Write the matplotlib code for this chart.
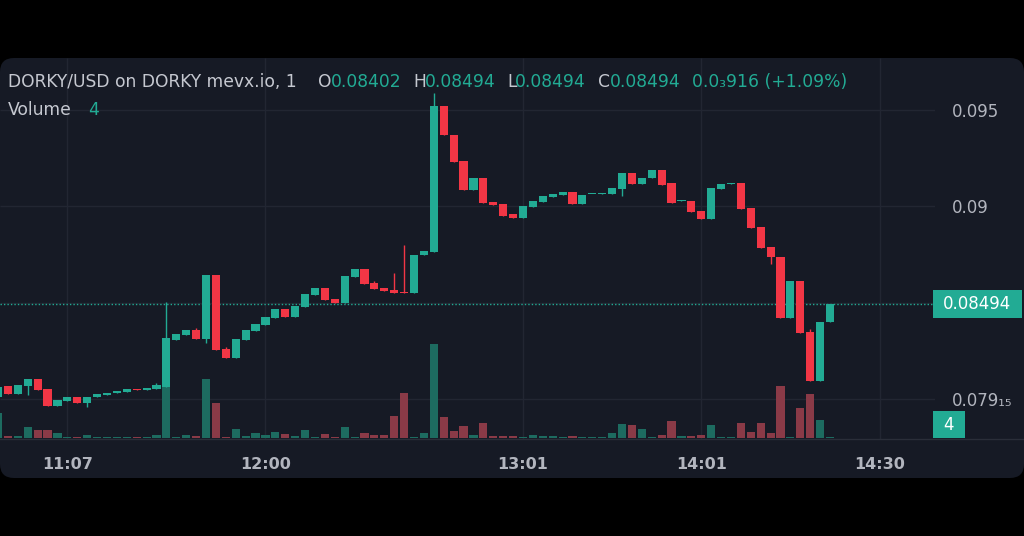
import matplotlib
matplotlib.use("Agg")
import matplotlib.pyplot as plt
import matplotlib.transforms as mtransforms
from matplotlib.patches import FancyBboxPatch, Rectangle
import numpy as np

plt.rcParams['font.family'] = ['DejaVu Sans']

# ---------------- data (1-minute bars) ----------------
opens = [0.08012, 0.08069, 0.08027, 0.08069, 0.08105, 0.08053, 0.07965, 0.07991, 0.08012, 0.07981,
         0.08012, 0.08022, 0.08032, 0.08038, 0.08053, 0.08048, 0.08053, 0.08064, 0.08307, 0.08333,
         0.08359, 0.08312, 0.08644, 0.08261, 0.08214, 0.08307, 0.08354, 0.08385, 0.08421, 0.08468,
         0.08427, 0.08478, 0.08541, 0.08577, 0.08520, 0.08499, 0.08634, 0.08675, 0.08603, 0.08577,
         0.08567, 0.08556, 0.08551, 0.08748, 0.08764, 0.09521, 0.09370, 0.09235, 0.09085, 0.09147,
         0.09023, 0.09012, 0.08961, 0.08940, 0.08997, 0.09023, 0.09049, 0.09059, 0.09075, 0.09012,
         0.09064, 0.09064, 0.09064, 0.09090, 0.09173, 0.09116, 0.09147, 0.09189, 0.09121, 0.09028,
         0.09028, 0.08976, 0.08935, 0.09090, 0.09116, 0.09121, 0.08992, 0.08893, 0.08790, 0.08738,
         0.08421, 0.08613, 0.08349, 0.08095, 0.08402]
closes = [0.08064, 0.08027, 0.08074, 0.08105, 0.08048, 0.07965, 0.07996, 0.08012, 0.07981, 0.08012,
          0.08027, 0.08032, 0.08043, 0.08053, 0.08048, 0.08058, 0.08074, 0.08318, 0.08338, 0.08359,
          0.08312, 0.08644, 0.08255, 0.08214, 0.08312, 0.08359, 0.08390, 0.08427, 0.08468, 0.08427,
          0.08484, 0.08546, 0.08577, 0.08515, 0.08499, 0.08639, 0.08675, 0.08598, 0.08572, 0.08561,
          0.08551, 0.08551, 0.08748, 0.08769, 0.09521, 0.09370, 0.09230, 0.09085, 0.09147, 0.09018,
          0.09007, 0.08950, 0.08940, 0.09002, 0.09028, 0.09054, 0.09064, 0.09075, 0.09012, 0.09059,
          0.09066, 0.09070, 0.09095, 0.09173, 0.09116, 0.09147, 0.09189, 0.09111, 0.09018, 0.09033,
          0.08971, 0.08935, 0.09095, 0.09116, 0.09121, 0.08987, 0.08888, 0.08784, 0.08738, 0.08421,
          0.08613, 0.08344, 0.08095, 0.08402, 0.08494]
highs = [0.08064, 0.08069, 0.08074, 0.08105, 0.08105, 0.08053, 0.07996, 0.08012, 0.08012, 0.08012,
         0.08027, 0.08032, 0.08043, 0.08053, 0.08053, 0.08058, 0.08084, 0.08504, 0.08338, 0.08359,
         0.08369, 0.08644, 0.08644, 0.08271, 0.08312, 0.08359, 0.08390, 0.08427, 0.08468, 0.08468,
         0.08484, 0.08546, 0.08577, 0.08577, 0.08520, 0.08639, 0.08675, 0.08675, 0.08613, 0.08577,
         0.08655, 0.08800, 0.08748, 0.08769, 0.09588, 0.09521, 0.09370, 0.09235, 0.09147, 0.09147,
         0.09023, 0.09012, 0.08961, 0.09002, 0.09028, 0.09054, 0.09064, 0.09075, 0.09075, 0.09059,
         0.09066, 0.09070, 0.09095, 0.09173, 0.09173, 0.09147, 0.09189, 0.09189, 0.09121, 0.09033,
         0.09028, 0.08976, 0.09095, 0.09116, 0.09121, 0.09121, 0.08992, 0.08893, 0.08790, 0.08738,
         0.08613, 0.08613, 0.08364, 0.08402, 0.08494]
lows = [0.08012, 0.08027, 0.08027, 0.08022, 0.08048, 0.07965, 0.07965, 0.07991, 0.07981, 0.07960,
        0.08012, 0.08022, 0.08032, 0.08038, 0.08048, 0.08048, 0.08053, 0.08064, 0.08307, 0.08333,
        0.08312, 0.08292, 0.08255, 0.08214, 0.08214, 0.08307, 0.08354, 0.08385, 0.08421, 0.08427,
        0.08427, 0.08478, 0.08541, 0.08515, 0.08499, 0.08499, 0.08634, 0.08598, 0.08572, 0.08561,
        0.08551, 0.08551, 0.08551, 0.08748, 0.08764, 0.09370, 0.09230, 0.09085, 0.09085, 0.09018,
        0.09007, 0.08950, 0.08940, 0.08940, 0.08997, 0.09023, 0.09049, 0.09059, 0.09012, 0.09012,
        0.09064, 0.09064, 0.09064, 0.09054, 0.09116, 0.09116, 0.09147, 0.09111, 0.09018, 0.09028,
        0.08971, 0.08935, 0.08935, 0.09090, 0.09116, 0.08987, 0.08888, 0.08784, 0.08701, 0.08421,
        0.08421, 0.08344, 0.08095, 0.08095, 0.08402]
volumes = [200, 16, 12, 88, 64, 64, 36, 4, 4, 24,
           8, 4, 8, 4, 4, 4, 24, 416, 4, 24,
           12, 472, 280, 4, 72, 12, 36, 24, 48, 32,
           12, 64, 4, 32, 6, 88, 4, 36, 20, 20,
           176, 360, 4, 36, 752, 168, 56, 96, 24, 120,
           16, 16, 16, 8, 24, 16, 16, 8, 16, 4,
           4, 8, 40, 112, 104, 72, 4, 24, 136, 12,
           12, 20, 104, 4, 4, 120, 48, 120, 40, 416,
           4, 240, 352, 144, 4]

time_tick_bars = [7, 27, 53, 71, 89]
time_tick_labels = ["11:07", "12:00", "13:01", "14:01", "14:30"]
price_ticks = [0.095, 0.09, 0.085, 0.08]
price_tick_labels = ["0.095", "0.09", "", "0.079\u2081\u2085"]

title_main = "DORKY/USD on DORKY mevx.io, 1"
ohlc_letters = ["O", "H", "L", "C"]
ohlc_values = ["0.08402", "0.08494", "0.08494", "0.08494"]
change_text = "0.0\u2083916 (+1.09%)"
last_price_text = "0.08494"
last_volume_text = "4"

# ---------------- style ----------------
BG = '#161a25'
GRID = '#222632'
UP = '#22ab94'
DOWN = '#f23645'
UP_VOL = '#1d6b60'
DOWN_VOL = '#8a3a47'
TXT = '#c5c8d0'
AXTXT = '#b2b5be'

W, H = 1024, 536
fig = plt.figure(figsize=(W / 100, H / 100), dpi=100, facecolor='black')

panel = FancyBboxPatch((0.0, 0.58), 10.24, 4.20,
                       boxstyle="round,pad=0,rounding_size=0.14",
                       transform=fig.dpi_scale_trans, facecolor=BG,
                       edgecolor='none', zorder=-1)
fig.add_artist(panel)

ax_left, ax_right = 0.0, 935 / W
ax_top, ax_bot = 58, 439
rect = [ax_left, 1 - ax_bot / H, ax_right - ax_left, (ax_bot - ax_top) / H]

axv = fig.add_axes(rect)           # volume (behind)
ax = fig.add_axes(rect, sharex=axv)  # price (front)
for a in (ax, axv):
    a.set_facecolor('none')
    for s in a.spines.values():
        s.set_visible(False)
axv.set_zorder(1)
ax.set_zorder(2)

n = len(opens)
x = np.arange(n)
o = np.array(opens); c = np.array(closes)
hi = np.array(highs); lo = np.array(lows)
up = c >= o

ax.set_xlim(0.20, 94.60)
ax.set_ylim(0.077939, 0.097697)
px_per_price = (ax_bot - ax_top) / (0.097697 - 0.077939)

# grid (drawn on the back axes)
axv.vlines(time_tick_bars, 0, 1, transform=axv.get_xaxis_transform(),
           colors=GRID, linewidth=1, zorder=0)
axv.hlines(price_ticks, 0, 1, transform=ax.get_yaxis_transform(),
           colors=GRID, linewidth=1, zorder=0)

# volume
axv.set_ylim(-12, 3036)
axv.bar(x, volumes, width=0.82, color=np.where(up, UP_VOL, DOWN_VOL), linewidth=0, zorder=1)
axv.set_yticks([])
axv.tick_params(axis='x', bottom=False, labelbottom=False)

# candles
colors = np.where(up, UP, DOWN)
ax.vlines(x, lo, hi, colors=colors, linewidth=1, zorder=3)
body_bottom = np.minimum(o, c)
body_h = np.maximum(np.abs(c - o), 1.0 / px_per_price)
ax.bar(x, body_h, bottom=body_bottom, width=0.82, color=colors, linewidth=0, zorder=4)

# last price dotted line
ax.axhline(closes[-1], color=UP, linewidth=1, linestyle=(0, (1, 1.5)), zorder=2)

# axes ticks
ax.set_xticks(time_tick_bars)
ax.set_xticklabels(time_tick_labels)
ax.tick_params(axis='x', length=0, pad=13, labelsize=11.5, labelcolor=AXTXT)
for t in ax.get_xticklabels():
    t.set_fontweight('bold')
ax.yaxis.tick_right()
ax.set_yticks(price_ticks)
ax.set_yticklabels(price_tick_labels)
ax.tick_params(axis='y', length=0, pad=12, labelsize=12, labelcolor=AXTXT)

# bottom separator line
ax.plot([0, W / 935], [0, 0], transform=ax.transAxes, color='#2a2e39',
        linewidth=1, clip_on=False, zorder=1)

# last price label
bt = mtransforms.blended_transform_factory(ax.transAxes, ax.transData)
box_h = 28 / px_per_price
ax.add_patch(Rectangle((933 / 935, closes[-1] - box_h / 2), 89 / 935, box_h,
                       transform=bt, facecolor=UP, edgecolor='none', clip_on=False, zorder=5))
ax.text((933 + 44.5) / 935, closes[-1], last_price_text, transform=bt, color='white',
        fontsize=12, ha='center', va='center', zorder=6, clip_on=False)

# last volume label
axv.add_patch(Rectangle((933 / 935, 1 / 381), 32 / 935, 27 / 381, transform=axv.transAxes,
                        facecolor=UP, edgecolor='none', clip_on=False, zorder=5))
axv.text(949 / 935, 14.5 / 381, last_volume_text, transform=axv.transAxes, color='white',
         fontsize=12, ha='center', va='center', zorder=6, clip_on=False)

# header legend
FS = 12.3
def ftxt(px, py, s, col):
    fig.text(px / W, 1 - py / H, s, color=col, fontsize=FS, ha='left', va='baseline')

ftxt(8, 87, title_main, TXT)
letter_x = [318, 413, 507, 598]
value_x = [331, 425, 515, 610]
for lx, vx, L, V in zip(letter_x, value_x, ohlc_letters, ohlc_values):
    ftxt(lx, 87, L, TXT)
    ftxt(vx, 87, V, UP)
ftxt(692, 87, change_text, UP)
ftxt(8, 115, "Volume", TXT)
ftxt(88, 115, last_volume_text, UP)

fig.savefig('out.png', dpi=100, facecolor='black')
